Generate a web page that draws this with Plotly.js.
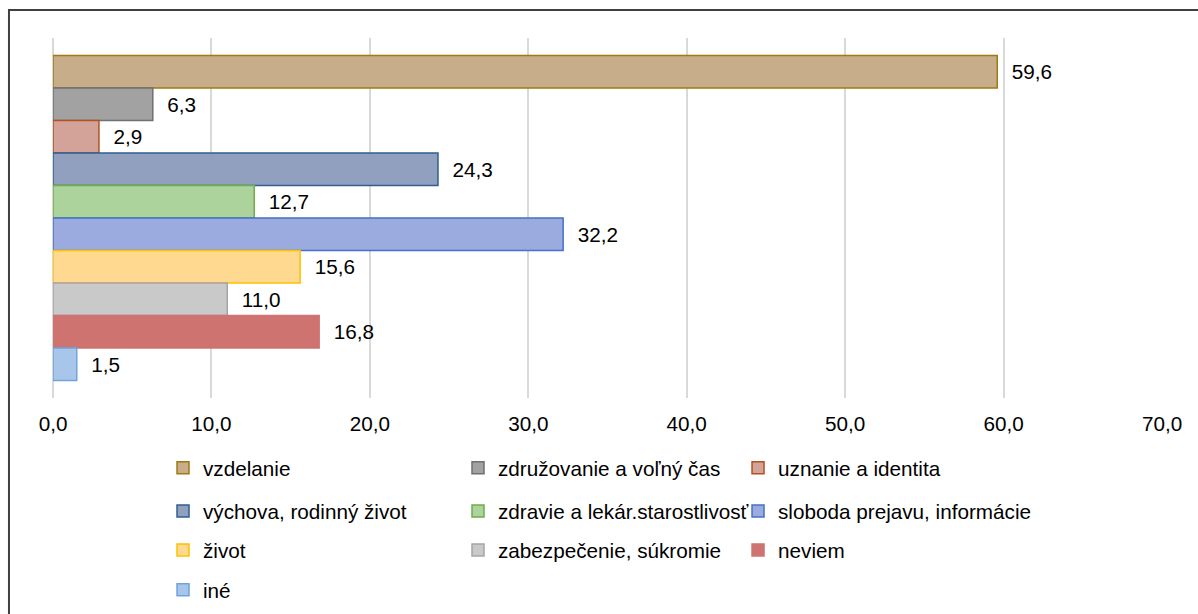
<!DOCTYPE html>
<html>
<head>
<meta charset="utf-8">
<script src="https://cdn.plot.ly/plotly-3.0.1.min.js"></script>
<style>html,body{margin:0;padding:0;background:#fff;}#chart{width:1198px;height:614px;}</style>
</head>
<body>
<div id="chart"></div>
<script>
// Data
const categories = [
  "vzdelanie",
  "združovanie a voľný čas",
  "uznanie a identita",
  "výchova, rodinný život",
  "zdravie a lekár.starostlivosť",
  "sloboda prejavu, informácie",
  "život",
  "zabezpečenie, súkromie",
  "neviem",
  "iné"
];
const values = [59.6, 6.3, 2.9, 24.3, 12.7, 32.2, 15.6, 11.0, 16.8, 1.5];
const tickValues = [0, 10, 20, 30, 40, 50, 60, 70];

// Styles
const fillColors = ["#C8AD8A", "#A2A2A2", "#D3A39A", "#90A0BE", "#ADD39D", "#9BABDF", "#FFD98F", "#C9C9C9", "#CE7370", "#A8C6EA"];
const lineColors = ["#A07A10", "#707070", "#B0531E", "#2F5F8F", "#70AD47", "#4472C4", "#FFC000", "#A5A5A5", "#CE7370", "#6FA3DC"];
// legend grid placement (3 columns, rows top-down)
const colX = [0.0992, 0.3652, 0.6177];
const rowY = [-0.194, -0.314, -0.422, -0.533];

const FONT = "Liberation Sans, Arial, sans-serif";
const FS = 20.7;

const legendId = i => (i === 0 ? "legend" : "legend" + (i + 1));

const traces = categories.map((c, i) => ({
  type: "bar",
  orientation: "h",
  name: c,
  x: [values[i]],
  y: [c],
  width: 1,
  marker: {color: fillColors[i], line: {color: lineColors[i], width: 1.5}},
  texttemplate: "\u00a0\u00a0%{x:.1f}",
  textposition: "outside",
  constraintext: "none",
  cliponaxis: false,
  textfont: {family: FONT, size: FS, color: "#000"},
  hoverinfo: "skip",
  legend: legendId(i)
}));

const layout = {
  width: 1198,
  height: 614,
  margin: {l: 53, r: 36, t: 38, b: 216, autoexpand: false},
  paper_bgcolor: "#fff",
  plot_bgcolor: "#fff",
  separators: ", ",
  barmode: "overlay",
  showlegend: true,
  font: {family: FONT, size: FS, color: "#000"},
  xaxis: {
    range: [0, 70],
    tickvals: tickValues,
    tickformat: ".1f",
    showgrid: true,
    gridcolor: "#D9D9D9",
    gridwidth: 2,
    zeroline: true,
    zerolinecolor: "#D9D9D9",
    zerolinewidth: 2,
    showline: false,
    ticks: "outside",
    ticklen: 7,
    tickcolor: "rgba(0,0,0,0)",
    tickfont: {family: FONT, size: FS, color: "#000"},
    automargin: false,
    fixedrange: true
  },
  yaxis: {
    type: "category",
    range: [10.04, -1.04],
    showticklabels: false,
    showgrid: false,
    zeroline: false,
    ticks: "",
    automargin: false,
    fixedrange: true
  },
  shapes: [{
    type: "rect",
    xref: "paper", yref: "paper",
    x0: -0.0397, x1: 1.2, y0: -1.2, y1: 1.0778,
    line: {color: "#404040", width: 2},
    fillcolor: "rgba(0,0,0,0)",
    layer: "above"
  }]
};

categories.forEach((c, i) => {
  layout[legendId(i)] = {
    orientation: "h",
    x: colX[i % 3],
    y: rowY[Math.floor(i / 3)],
    xanchor: "left",
    yanchor: "middle",
    font: {family: FONT, size: FS, color: "#000"},
    bgcolor: "rgba(0,0,0,0)"
  };
});

Plotly.newPlot("chart", traces, layout, {staticPlot: true, displayModeBar: false});
</script>
</body>
</html>
